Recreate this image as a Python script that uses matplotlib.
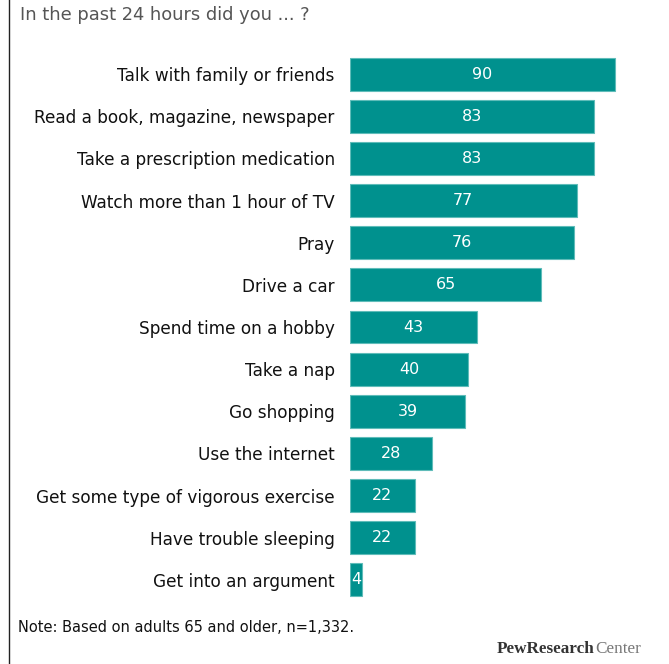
import matplotlib
matplotlib.use("Agg")
import matplotlib.pyplot as plt
from matplotlib.lines import Line2D

categories = [
    "Talk with family or friends",
    "Read a book, magazine, newspaper",
    "Take a prescription medication",
    "Watch more than 1 hour of TV",
    "Pray",
    "Drive a car",
    "Spend time on a hobby",
    "Take a nap",
    "Go shopping",
    "Use the internet",
    "Get some type of vigorous exercise",
    "Have trouble sleeping",
    "Get into an argument",
]
values = [90, 83, 83, 77, 76, 65, 43, 40, 39, 28, 22, 22, 4]

title = "In the past 24 hours did you ... ?"
note = "Note: Based on adults 65 and older, n=1,332."

plt.rcParams["font.family"] = ["DejaVu Sans"]

W, H = 669, 664
fig = plt.figure(figsize=(W / 100, H / 100), dpi=100)

bar_color = "#00918e"
edge_color = "#5fbcb9"

ax_left, ax_right = 350, 644.4
ax_top, ax_bottom = 53, 601
ax = fig.add_axes([ax_left / W, 1 - ax_bottom / H,
                   (ax_right - ax_left) / W, (ax_bottom - ax_top) / H])

pos = list(range(len(categories)))
ax.barh(pos, values, height=0.78, color=bar_color, edgecolor=edge_color,
        linewidth=0.8)
for p, v in zip(pos, values):
    ax.text(v / 2, p, str(v), ha="center", va="center", color="white",
            fontsize=11.5)

ax.set_xlim(0, 100)
ax.set_ylim(len(categories) - 0.5, -0.5)
ax.set_yticks(pos)
ax.set_yticklabels(categories, fontsize=12.2, color="#111111")
ax.tick_params(axis="y", length=0, pad=11)
ax.set_xticks([])
for s in ax.spines.values():
    s.set_visible(False)

fig.text(20 / W, 1 - 15 / H, title, fontsize=12.9, color="#555555",
         ha="left", va="center")
fig.text(18 / W, 1 - 628 / H, note, fontsize=10.5, color="#111111",
         ha="left", va="center")

# Pew Research Center wordmark
t1 = fig.text(497 / W, 1 - 649 / H, "PewResearch", fontsize=12.3,
              family="Liberation Serif", weight="bold", color="#333333",
              ha="left", va="center")
fig.canvas.draw()
bb = t1.get_window_extent()
fig.text(bb.x1 / W, 1 - 649 / H, "Center", fontsize=12.3,
         family="Liberation Serif", color="#777777", ha="left", va="center")

# left frame rule
fig.add_artist(Line2D([8.5 / W, 8.5 / W], [0, 1], color="#222222",
                      linewidth=1.0, transform=fig.transFigure))

fig.savefig("out.png", dpi=100, facecolor="white")
